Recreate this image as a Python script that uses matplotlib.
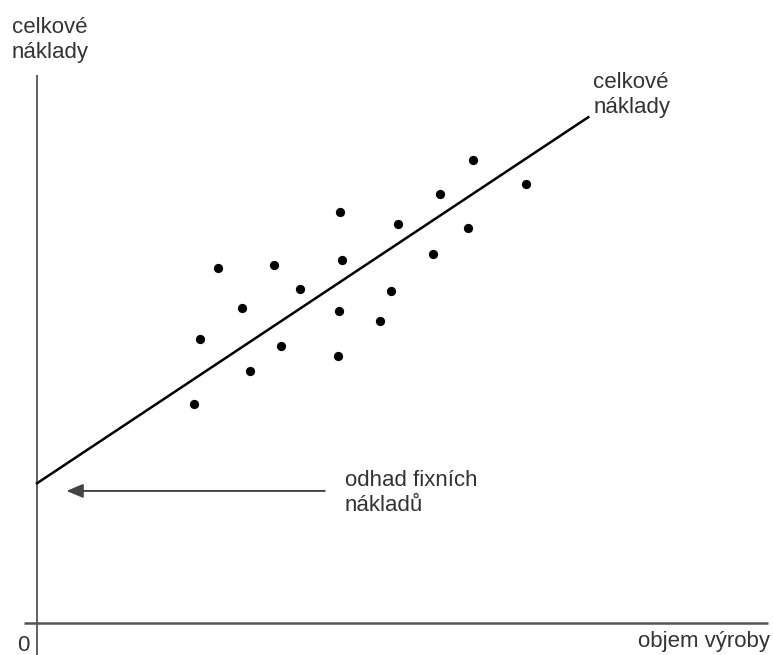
import matplotlib.pyplot as plt
import numpy as np

plt.rcParams['font.family'] = ['Liberation Sans', 'DejaVu Sans']

# data (arbitrary units, origin at the axes crossing)
objem = [21.3, 22.1, 24.6, 27.9, 28.9, 32.2, 33.2, 35.8, 41.2, 41.5,
         41.1, 40.9, 46.6, 48.1, 49.1, 53.8, 54.7, 58.6, 59.3, 66.5]
naklady = [39.9, 51.8, 64.8, 57.5, 46.0, 65.3, 50.6, 60.9, 75.0, 66.3,
           56.9, 48.7, 55.2, 60.6, 72.8, 67.4, 78.3, 72.1, 84.4, 80.2]
line_x = [0, 74.9]
line_y = [25.5, 92.3]
fixni = 24.1

fig = plt.figure(figsize=(7.73, 6.55), dpi=100)
ax = fig.add_axes([0, 0, 1, 1])
ax.set_xlim(-37 / 7.36, 100)
ax.set_ylim(-32 / 5.48, 623 / 5.48)
ax.axis('off')

axis_col = '#555555'
text_col = '#333333'
fs = 16

# axes
ax.plot([0, 0], [-6, 100], color=axis_col, lw=1.3, solid_capstyle='butt')
ax.plot([-1.8, 99.3], [0, 0], color=axis_col, lw=1.8, solid_capstyle='butt')

# points and total cost line
ax.scatter(objem, naklady, s=32, color='black', zorder=3)
ax.plot(line_x, line_y, color='black', lw=1.8)

# arrow to the fixed cost estimate
ax.annotate('', xy=(4.0, fixni), xytext=(39.1, fixni),
            arrowprops=dict(arrowstyle='-|>,head_length=1.0,head_width=0.42',
                            color='#444444', lw=1.4, shrinkA=0, shrinkB=0))

ax.text(41.8, 27.9, 'odhad fixních\nnákladů', fontsize=fs, color=text_col,
        va='top', ha='left', linespacing=1.25)
ax.text(75.6, 100.6, 'celkové\nnáklady', fontsize=fs, color=text_col,
        va='top', ha='left', linespacing=1.25)
ax.text(-3.4, 110.6, 'celkové\nnáklady', fontsize=fs, color=text_col,
        va='top', ha='left', linespacing=1.25)
ax.text(-2.7, -2.2, '0', fontsize=fs, color=text_col, va='top', ha='left')
ax.text(99.6, -1.4, 'objem výroby', fontsize=fs, color=text_col,
        va='top', ha='right')

fig.savefig('out.png', dpi=100)
